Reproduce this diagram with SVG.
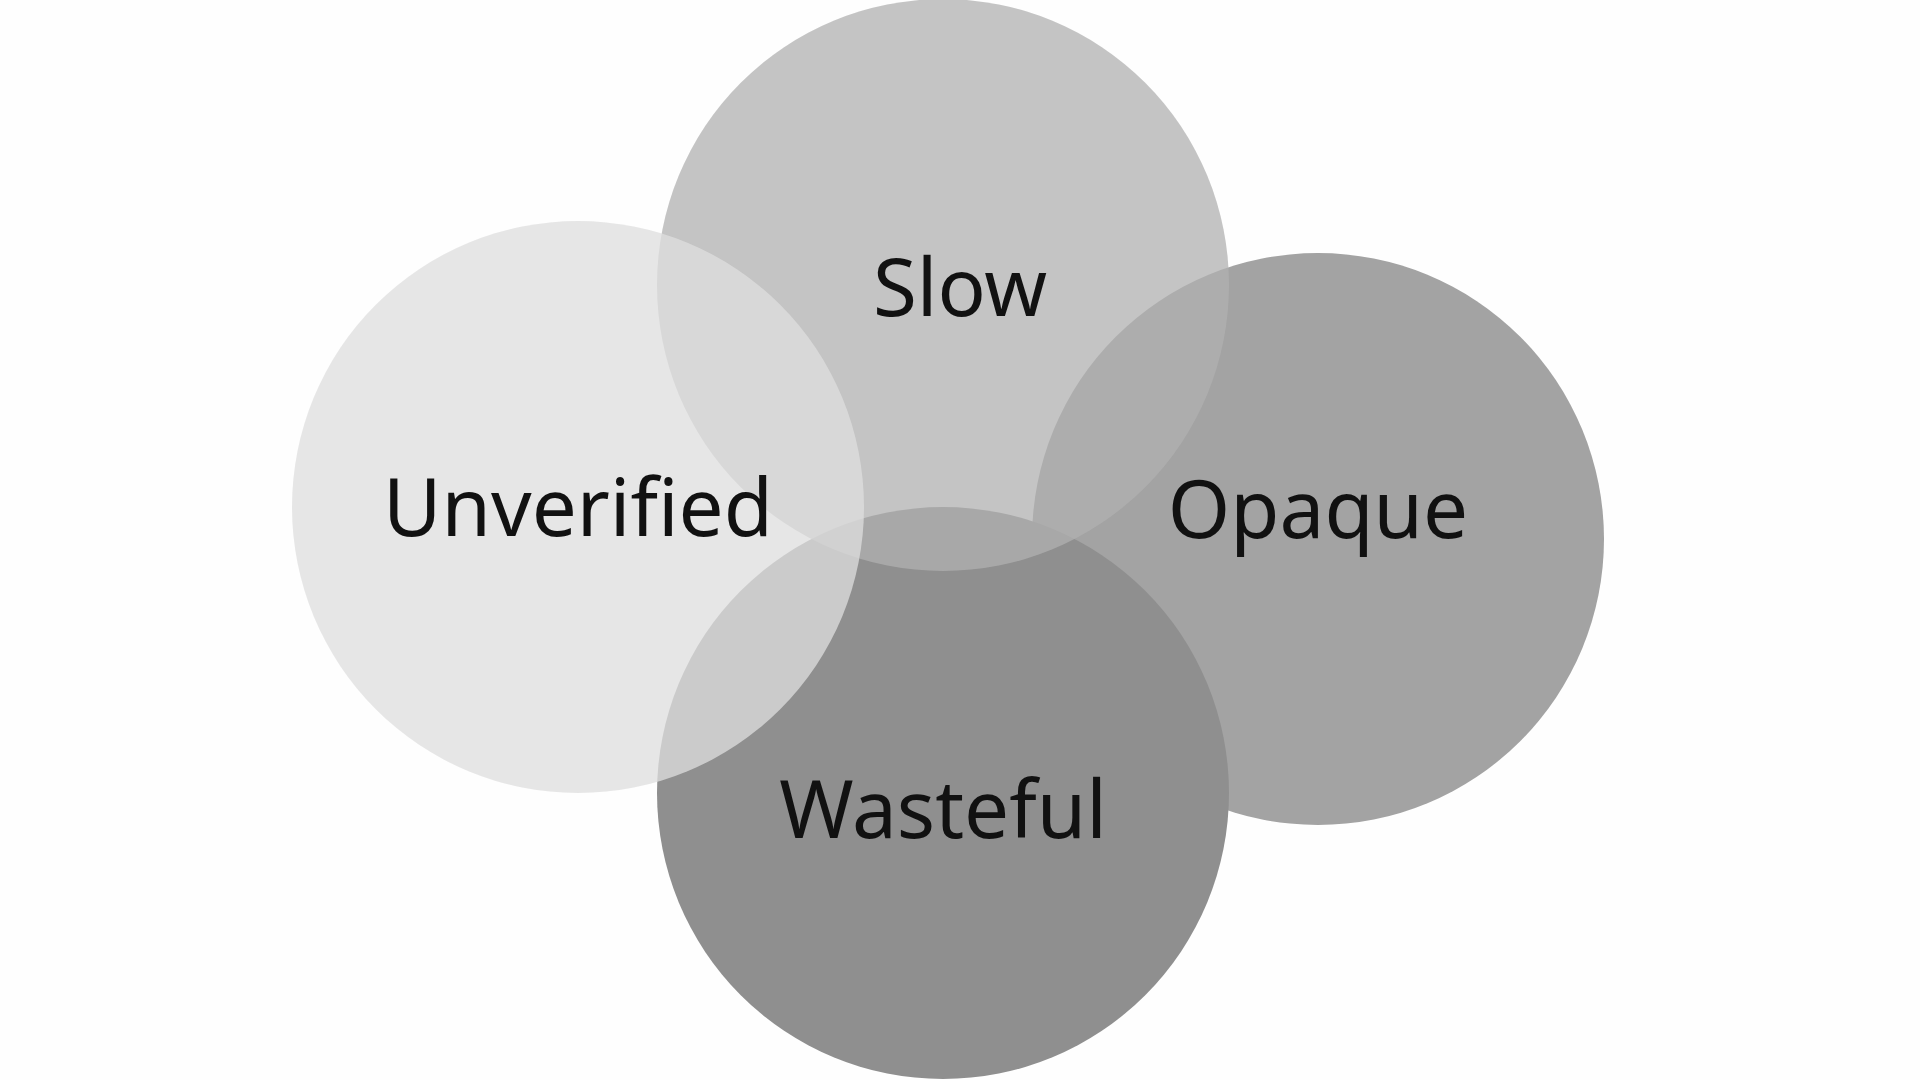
<svg xmlns="http://www.w3.org/2000/svg" width="1920" height="1080" viewBox="0 0 1920 1080">
<style>
.lbl{font-family:"Noto Sans","Liberation Sans",sans-serif;font-size:80px;fill:#111;text-anchor:middle;dominant-baseline:central}
</style>
<rect width="1920" height="1080" fill="#fefefe"/>
<g id="opaque"><circle cx="1318" cy="539" r="286" fill="#a3a3a3"/></g>
<g id="wasteful"><circle cx="943" cy="793" r="286" fill="#8f8f8f"/></g>
<g id="slow"><circle cx="943" cy="285" r="286" fill="#b0b0b0" fill-opacity="0.75"/></g>
<g id="unverified"><circle cx="578" cy="507" r="286" fill="#dedede" fill-opacity="0.76"/></g>
<g id="labels">
<text class="lbl" x="960" y="284">Slow</text>
<text class="lbl" x="578" y="504">Unverified</text>
<text class="lbl" x="1318" y="506">Opaque</text>
<text class="lbl" x="943" y="806">Wasteful</text>
</g>
<g id="connectors"/>
</svg>
